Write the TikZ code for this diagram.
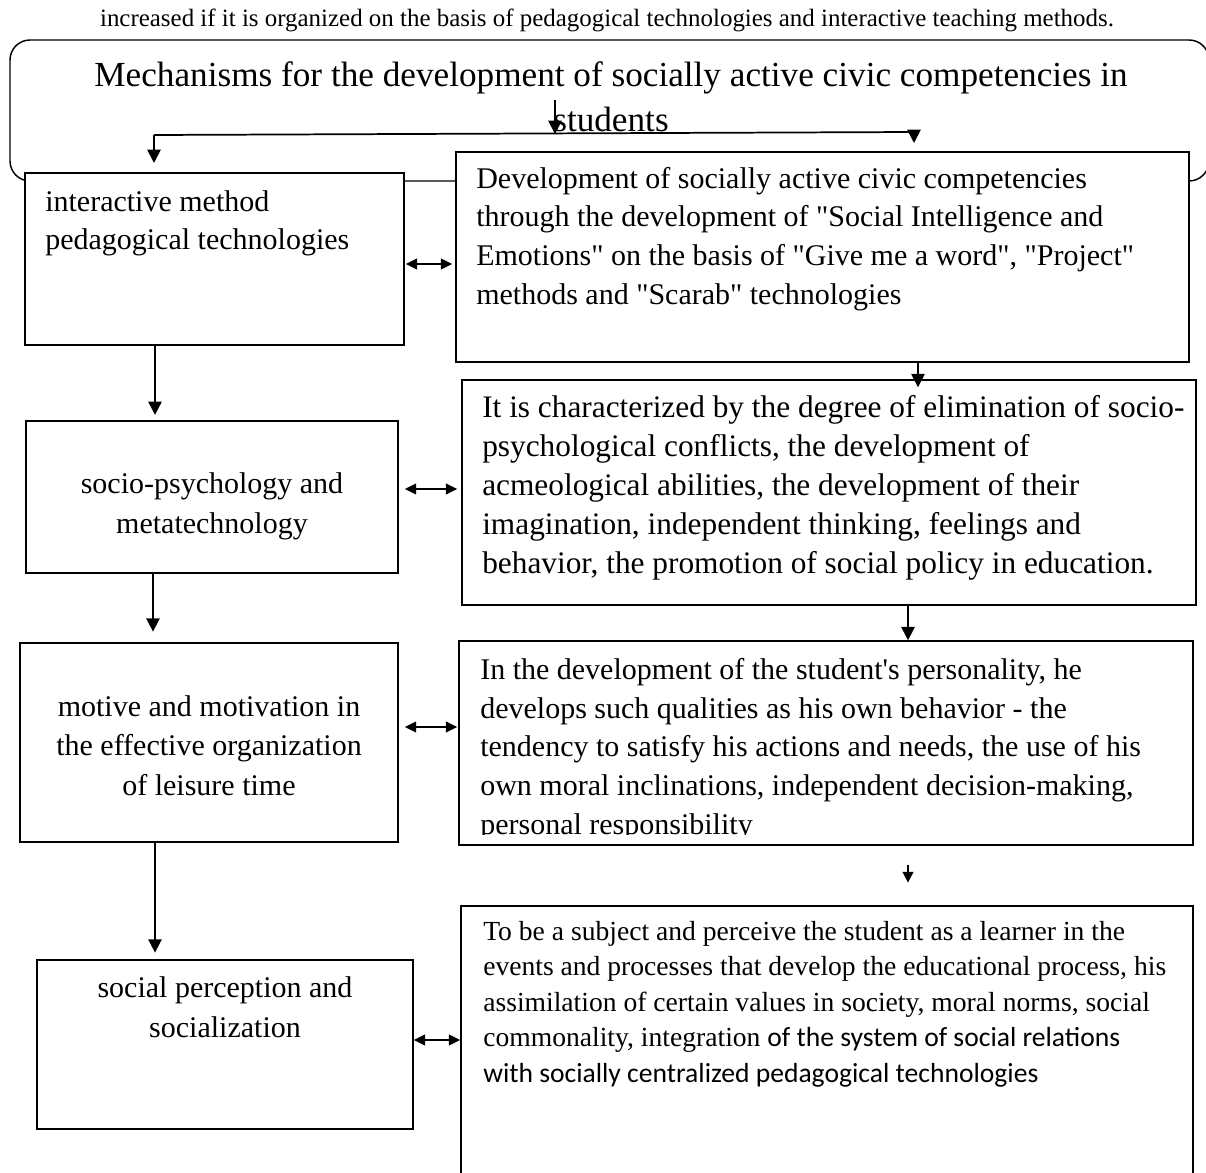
\documentclass[tikz,border=0pt]{standalone}
\usepackage{fontspec}
\setmainfont{Liberation Serif}[Ligatures=TeXOff]
\newfontfamily\calib{Carlito}[Ligatures=TeXOff]
\usetikzlibrary{arrows.meta,fit,calc}

\begin{document}
\begin{tikzpicture}[x=0.75pt,y=-0.75pt,
  box/.style={draw, line width=1.1pt, fill=white, inner sep=0pt},
  arr/.style={line width=1.3pt, -{Triangle[length=10pt,width=10pt]}},
  smallarr/.style={line width=1.3pt, -{Triangle[length=8pt,width=8pt]}},
  dbl/.style={line width=1.4pt, {Triangle[length=8.5pt,width=8pt]}-{Triangle[length=8.5pt,width=8pt]}},
  headtext/.style={font=\fontsize{18.7}{22}\selectfont, inner sep=0pt},
  titletext/.style={font=\fontsize{26.4}{33.8}\selectfont, inner sep=0pt, align=center},
  bodyl/.style={font=\fontsize{22.5}{28.9}\selectfont, inner sep=0pt, align=left},
  bodyb/.style={font=\fontsize{23.5}{29.1}\selectfont, inner sep=0pt, align=left},
  bodyc/.style={font=\fontsize{22.5}{29.5}\selectfont, inner sep=0pt, align=center},
  smallt/.style={font=\fontsize{20.7}{26.6}\selectfont, inner sep=0pt, align=left}
]
\useasboundingbox (0,0) rectangle (1206,1173);

% running line above the chart
\node[headtext, anchor=base] (head) at (607,27)
  {increased if it is organized on the basis of pedagogical technologies and interactive teaching methods.};

% rounded frame with the chart title (base anchor = last line)
\node[box, rounded corners=15pt, fit={(10,40) (1209,181)}] (frame) {};
\node[titletext, anchor=base] (title) at (611,132)
  {Mechanisms for the development of socially active civic competencies in\\students};

% split of the title arrow into the two columns
\coordinate (tsrc) at (555,100);
\coordinate (split) at (555,134);
\coordinate (jl) at (154,135);
\coordinate (jr) at (914,132);
\coordinate (jlend) at (154,163);
\coordinate (jrend) at (914,143);
\draw[arr] (tsrc) -- (split);
\draw[line width=1.3pt] (jl) -- (jr);
\draw[arr] (jl) -- (jlend);
\draw[arr] (jr) -- (jrend);

% left column
\node[box, fit={(25,173) (404,345)}] (b1) {};
\node[box, fit={(26,421) (398,573)}] (l2) {};
\node[box, fit={(20,643) (398,842)}] (l3) {};
\node[box, fit={(37,960) (413,1129)}] (l4) {};

% right column
\node[box, fit={(456,152) (1189,362)}] (b2) {};
\node[box, fit={(462,380) (1196,605)}] (b3) {};
\node[box, fit={(459,641) (1193,845)}] (b4) {};
\node[box, fit={(461,906) (1193,1190)}] (b5) {};

% texts of the left column (placed by the baseline of their last line)
\node[bodyl, anchor=base west] (t1) at (45,250)
  {interactive method\\pedagogical technologies};
\node[bodyc, anchor=base] (t2) at (212,533)
  {socio-psychology and\\metatechnology};
\node[bodyc, anchor=base] (t3) at (209,795)
  {motive and motivation in\\the effective organization\\of leisure time};
\node[bodyc, anchor=base] (t4) at (225,1037)
  {social perception and\\socialization};

% texts of the right column
\node[bodyl, anchor=base west] (u2) at (476,304)
  {Development of socially active civic competencies\\
   through the development of "Social Intelligence and\\
   Emotions" on the basis of "Give me a word", "Project"\\
   methods and "Scarab" technologies};
\node[bodyb, anchor=base west] (u3) at (482,573)
  {It is characterized by the degree of elimination of socio-\\
   psychological conflicts, the development of\\
   acmeological abilities, the development of their\\
   imagination, independent thinking, feelings and\\
   behavior, the promotion of social policy in education.};
\begin{scope}
  \clip (459,641) rectangle (1193,834);
  \node[bodyl, anchor=base west] (u4) at (480,834)
    {In the development of the student's personality, he\\
     develops such qualities as his own behavior - the\\
     tendency to satisfy his actions and needs, the use of his\\
     own moral inclinations, independent decision-making,\\
     personal responsibility};
\end{scope}
\node[smallt, anchor=base west] (u5) at (483,1082)
  {To be a subject and perceive the student as a learner in the\\
   events and processes that develop the educational process, his\\
   assimilation of certain values in society, moral norms, social\\
   commonality, integration {\calib of the system of social relations}\\
   {\calib with socially centralized pedagogical technologies}};

% vertical links
\coordinate (cl) at (155,0);
\draw[arr, shorten >=4pt] (b1.south -| cl) -- (l2.north -| cl);
\coordinate (cl2) at (153,0);
\draw[arr, shorten >=8pt] (l2.south -| cl2) -- (l3.north -| cl2);
\draw[arr, shorten >=5pt] (l3.south -| cl) -- (l4.north -| cl);
\coordinate (cr1) at (918,0);
\draw[arr, shorten >=-6pt] (b2.south -| cr1) -- (b3.north -| cr1);
\coordinate (cr2) at (908,0);
\draw[arr] (b3.south -| cr2) -- (b4.north -| cr2);
\coordinate (cr3) at (908,865);
\draw[smallarr, shorten >=17pt] (cr3) -- (b5.north -| cr3);

% horizontal two-way links
\coordinate (h1) at (0,264);
\coordinate (h2) at (0,489);
\coordinate (h3) at (0,727);
\coordinate (h4) at (0,1040);
\draw[dbl] ($(b1.east |- h1)+(1,0)$) -- ($(b2.west |- h1)+(-3,0)$);
\draw[dbl] ($(l2.east |- h2)+(6,0)$) -- ($(b3.west |- h2)+(-4,0)$);
\draw[dbl] ($(l3.east |- h3)+(6,0)$) -- ($(b4.west |- h3)+(-1,0)$);
\draw[dbl] (l4.east |- h4) -- (b5.west |- h4);
\end{tikzpicture}
\end{document}
